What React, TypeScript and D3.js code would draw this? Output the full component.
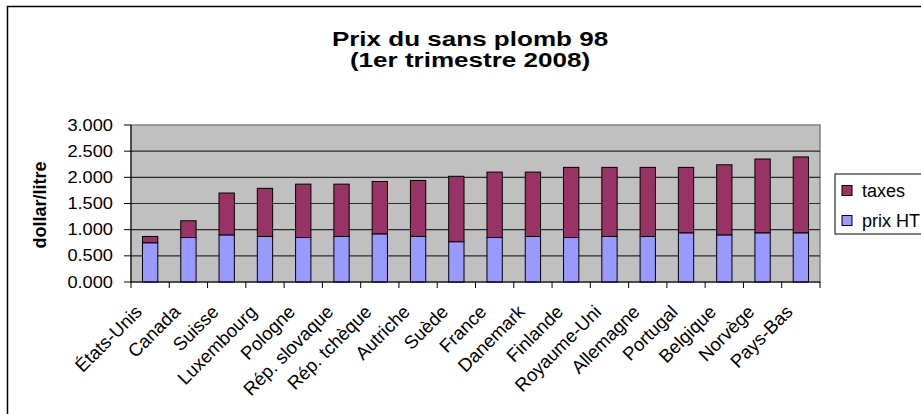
import React from "react";
import * as d3 from "d3";

const categories = [
  "États-Unis", "Canada", "Suisse", "Luxembourg", "Pologne", "Rép. slovaque",
  "Rép. tchèque", "Autriche", "Suède", "France", "Danemark", "Finlande",
  "Royaume-Uni", "Allemagne", "Portugal", "Belgique", "Norvège", "Pays-Bas",
];
const prixHT = [0.75, 0.85, 0.9, 0.87, 0.85, 0.87, 0.92, 0.87, 0.77, 0.85, 0.87, 0.85, 0.87, 0.87, 0.94, 0.9, 0.94, 0.94];
const taxes = [0.12, 0.32, 0.8, 0.92, 1.02, 1.0, 1.0, 1.07, 1.25, 1.25, 1.23, 1.34, 1.32, 1.32, 1.25, 1.34, 1.41, 1.45];
const seriesNames = ["prix HT", "taxes"];
const yTicks = [0, 0.5, 1, 1.5, 2, 2.5, 3];
const colors = { "prix HT": "#9999ff", taxes: "#993366" };

const font = "'Liberation Sans', Arial, sans-serif";

export default function App() {
  const width = 921;
  const height = 414;
  const left = 131;
  const right = 820;
  const top = 125;
  const bottom = 282;

  const rows = categories.map((c, i) => ({ cat: c, "prix HT": prixHT[i], taxes: taxes[i] }));
  const stacked = d3.stack().keys(seriesNames)(rows as any);

  const x = d3.scaleBand().domain(categories).range([left, right]).paddingInner(0.6).paddingOuter(0.3);
  const y = d3.scaleLinear().domain([0, 3]).range([bottom, top]);
  const step = (right - left) / categories.length;

  return (
    <svg width={width} height={height} style={{ position: "absolute", left: 0, top: 0 }} fontFamily={font}>
      <rect x={0} y={0} width={width} height={height} fill="#fff" />
      {/* chart border */}
      <rect x={7.5} y={6.5} width={1000} height={1000} fill="none" stroke="#000" strokeWidth={1.5} />

      {/* title */}
      <g transform="translate(470,0) scale(1.24,1)" fontWeight="bold" fontSize={21} textAnchor="middle">
        <text x={0} y={46}>Prix du sans plomb 98</text>
        <text x={0} y={67}>(1er trimestre 2008)</text>
      </g>

      {/* plot area */}
      <rect x={left} y={top} width={right - left} height={bottom - top} fill="#c0c0c0" stroke="#808080" strokeWidth={1.5} />
      {yTicks.slice(1, -1).map((t) => (
        <line key={t} x1={left} x2={right} y1={y(t)} y2={y(t)} stroke="#2a2a2a" strokeWidth={1.2} />
      ))}

      {/* bars */}
      {stacked.map((s) => (
        <g key={s.key} fill={(colors as any)[s.key]} stroke="#000" strokeWidth={1}>
          {s.map((d, i) => (
            <rect
              key={i}
              x={x(categories[i])!}
              width={x.bandwidth()}
              y={y(d[1])}
              height={y(d[0]) - y(d[1])}
            />
          ))}
        </g>
      ))}

      {/* y axis */}
      <line x1={left} x2={left} y1={top} y2={bottom} stroke="#000" strokeWidth={1} />
      {yTicks.map((t) => (
        <g key={t}>
          <line x1={left - 7} x2={left} y1={y(t)} y2={y(t)} stroke="#000" />
          <g transform={`translate(113,${y(t)}) scale(1.14,1)`}>
            <text x={0} y={0} dy="0.35em" textAnchor="end" fontSize={16}>
              {d3.format(".3f")(t)}
            </text>
          </g>
        </g>
      ))}
      <text
        transform="translate(46,205) rotate(-90)"
        textAnchor="middle"
        fontWeight="bold"
        fontSize={18}
      >
        dollar/litre
      </text>

      {/* x axis */}
      <line x1={left} x2={right} y1={bottom} y2={bottom} stroke="#000" />
      {d3.range(categories.length + 1).map((i) => (
        <line key={i} x1={left + i * step} x2={left + i * step} y1={bottom} y2={bottom + 6} stroke="#000" />
      ))}
      {categories.map((c) => {
        const cx = x(c)! + x.bandwidth() / 2;
        return (
          <text
            key={c}
            transform={`translate(${cx - 7},${bottom + 31}) rotate(-45)`}
            textAnchor="end"
            fontSize={18.5}
          >
            {c}
          </text>
        );
      })}

      {/* legend */}
      <rect x={835} y={174} width={200} height={60} fill="#fff" stroke="#000" strokeWidth={1} />
      {["taxes", "prix HT"].map((k, i) => (
        <g key={k} transform={`translate(842,${190.5 + i * 30})`}>
          <rect x={0} y={-5} width={10} height={10} fill={(colors as any)[k]} stroke="#000" />
          <text x={20} y={0} dy="0.35em" fontSize={18}>
            {k}
          </text>
        </g>
      ))}
    </svg>
  );
}
